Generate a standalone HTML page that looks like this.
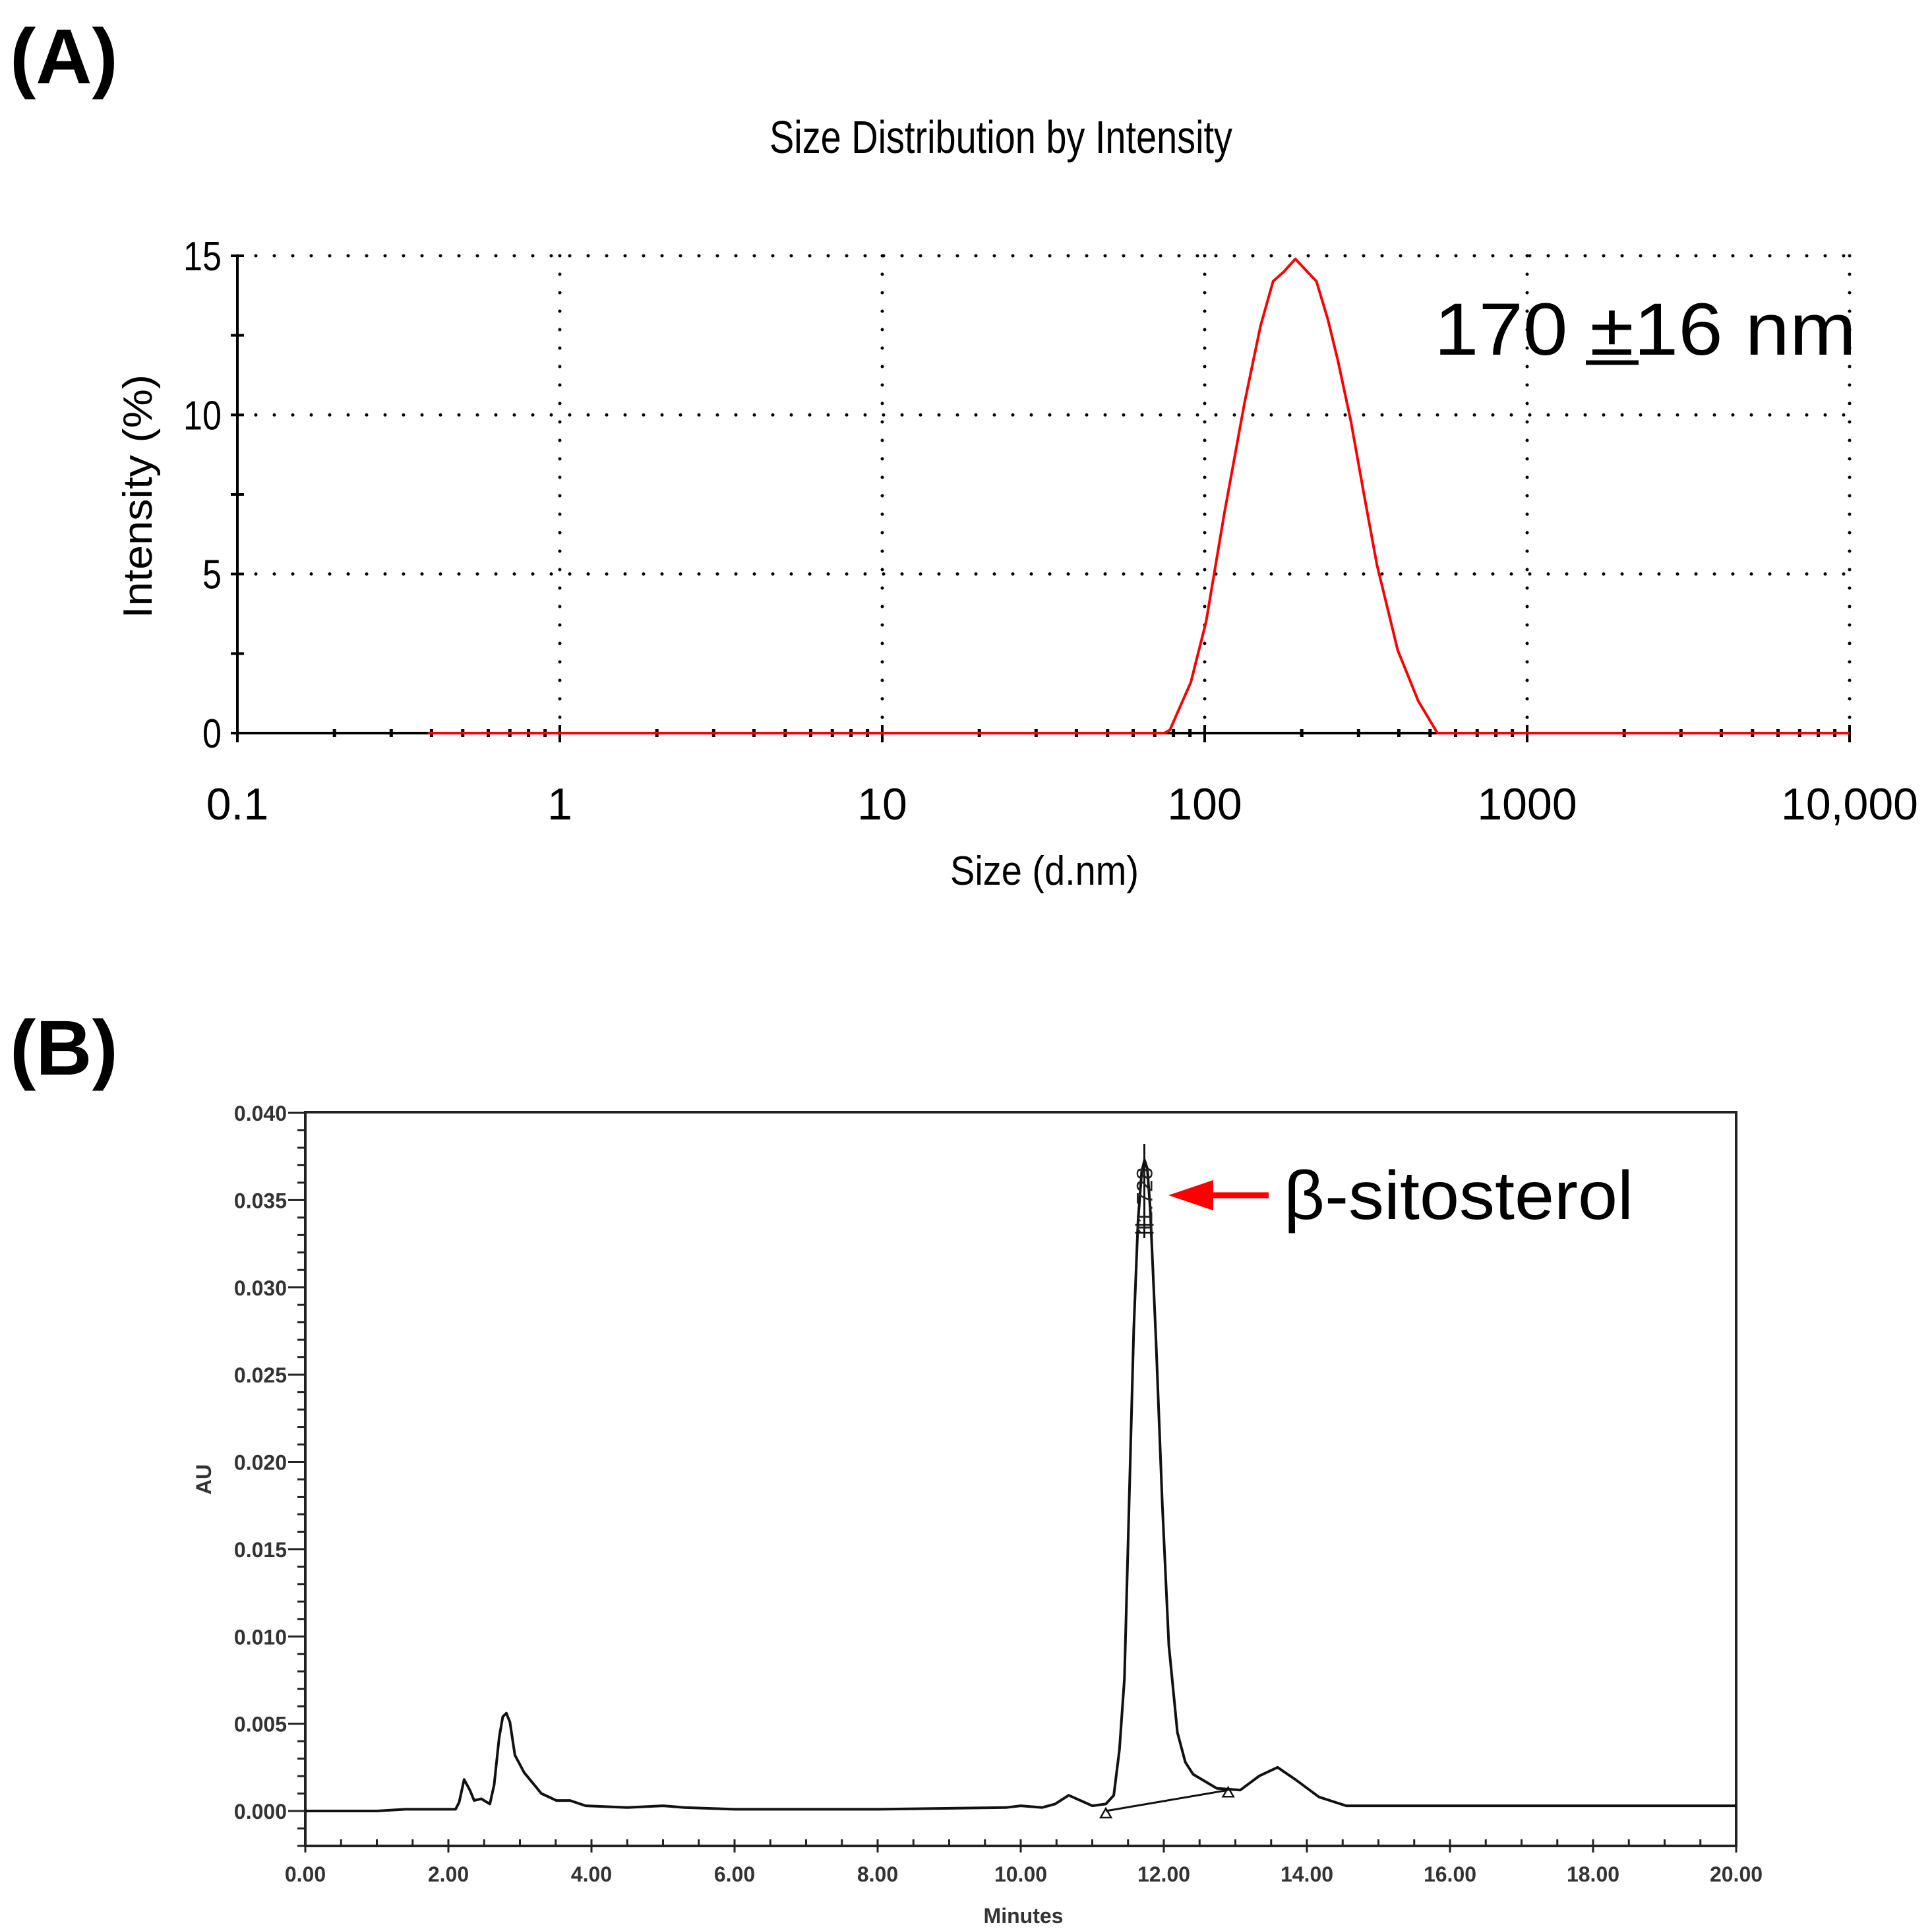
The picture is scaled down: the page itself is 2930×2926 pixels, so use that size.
<!DOCTYPE html>
<html><head><meta charset="utf-8"><style>
html,body{margin:0;padding:0;background:#fff;}
svg{display:block;}
text{font-family:"Liberation Sans",Arial,sans-serif;}
</style></head><body>
<svg id="fig" width="2930" height="2926" viewBox="0 0 2930 2926" xmlns="http://www.w3.org/2000/svg">
<text x="15" y="126" font-size="118" font-weight="bold">(A)</text>
<text x="1167" y="232" font-size="70" textLength="702" lengthAdjust="spacingAndGlyphs">Size Distribution by Intensity</text>
<g id="chartA"></g>
<text x="2175" y="538" font-size="112" textLength="640" lengthAdjust="spacingAndGlyphs">170 ±16 nm</text>
<line x1="2405" y1="550" x2="2485" y2="550" stroke="#000" stroke-width="7"/>
<text x="15" y="1630" font-size="118" font-weight="bold">(B)</text>
<g id="chartB"></g>
<text x="1947" y="1849" font-size="104" textLength="530" lengthAdjust="spacingAndGlyphs">β-sitosterol</text>
<line x1="1830" y1="1813" x2="1924" y2="1813" stroke="#ff0000" stroke-width="9"/>
<polygon points="1772,1813 1840,1790 1840,1836" fill="#ff0000"/>
</svg>
<script>
// ---- Panel A data ----
const dlsSizes = [75, 78, 90.6, 101, 115, 133, 149, 163, 176, 191, 222, 241, 259, 284, 312, 342, 397, 460, 527];
const dlsIntensity = [0, 0.1, 1.6, 3.5, 6.9, 10.4, 12.8, 14.2, 14.5, 14.9, 14.2, 13.0, 11.7, 9.8, 7.5, 5.3, 2.6, 1.0, 0];
const dlsXTicks = [0.1, 1, 10, 100, 1000, 10000];
const dlsXTickLabels = ["0.1", "1", "10", "100", "1000", "10,000"];
const dlsYTicks = [0, 5, 10, 15];
// ---- Panel B data ----
const hplcTimes = [0, 1.0, 1.4, 1.8, 2.1, 2.15, 2.22, 2.3, 2.36, 2.46, 2.58, 2.64, 2.71, 2.76, 2.81, 2.86, 2.93, 3.06, 3.3, 3.51, 3.7, 3.92, 4.5, 5.0, 5.3, 6, 8, 9.8, 10.0, 10.3, 10.48, 10.67, 11.0, 11.19, 11.3, 11.38, 11.45, 11.51, 11.58, 11.64, 11.69, 11.73, 11.77, 11.81, 11.89, 11.98, 12.07, 12.19, 12.3, 12.41, 12.74, 13.07, 13.33, 13.59, 13.84, 14.17, 14.55, 15, 17, 20];
const hplcAU = [0, 0, 0.0001, 0.0001, 0.0001, 0.0005, 0.0018, 0.0012, 0.0006, 0.0007, 0.0004, 0.0015, 0.0042, 0.0054, 0.0056, 0.0051, 0.0032, 0.0022, 0.001, 0.0006, 0.0006, 0.0003, 0.0002, 0.0003, 0.0002, 0.0001, 0.0001, 0.0002, 0.0003, 0.0002, 0.0004, 0.0009, 0.0003, 0.0004, 0.0009, 0.0035, 0.0076, 0.0168, 0.0276, 0.0338, 0.0366, 0.0373, 0.0368, 0.0345, 0.0270, 0.0175, 0.0095, 0.0045, 0.0028, 0.0021, 0.0013, 0.0012, 0.002, 0.0025, 0.0018, 0.0008, 0.0003, 0.0003, 0.0003, 0.0003];
const hplcYTicks = [0, 0.005, 0.01, 0.015, 0.02, 0.025, 0.03, 0.035, 0.04];
const hplcXTicks = [0, 2, 4, 6, 8, 10, 12, 14, 16, 18, 20];
const peakTime = 11.728;
const baselineStart = [11.19, 0.0];
const baselineEnd = [12.9, 0.0012];

const NS = "http://www.w3.org/2000/svg";
function mk(parent, tag, attrs, txt) {
  const e = document.createElementNS(NS, tag);
  for (const k in attrs) e.setAttribute(k, attrs[k]);
  if (txt !== undefined) e.textContent = txt;
  parent.appendChild(e);
  return e;
}

// ---------- Panel A ----------
(function(){
  const g = document.getElementById('chartA');
  const X0 = 360, DEC = 489, Y0 = 1112, Y15 = 388;
  const xs = v => X0 + (Math.log10(v) + 1) * DEC;
  const ys = v => Y0 - v * (Y0 - Y15) / 15;
  const xR = xs(10000);
  [5, 10, 15].forEach(v => {
    const l = mk(g, 'line', {x1: X0, y1: ys(v), x2: xR, y2: ys(v), stroke: '#000', 'stroke-width': 5, 'stroke-dasharray': '0 28', 'stroke-linecap': 'round'});
    
    
  });
  dlsXTicks.slice(1).forEach(v => {
    const l = mk(g, 'line', {x1: xs(v), y1: Y15, x2: xs(v), y2: Y0, stroke: '#000', 'stroke-width': 5, 'stroke-dasharray': '0 28', 'stroke-linecap': 'round'});
    
    
  });
  const ya = mk(g, 'line', {x1: X0, y1: Y15, x2: X0, y2: Y0 + 10, stroke: '#000', 'stroke-width': 4});
  
  
  const xa = mk(g, 'line', {x1: X0, y1: Y0, x2: xR, y2: Y0, stroke: '#000', 'stroke-width': 4});
  
  
  for (let v = 0; v <= 15; v += 2.5) {
    const t = mk(g, 'line', {x1: X0 - 10, y1: ys(v), x2: X0 + 10, y2: ys(v), stroke: '#000', 'stroke-width': 4});
    
    
  }
  dlsYTicks.forEach(v => {
    const t = mk(g, 'text', {x: X0 - 24, y: ys(v) + 22, 'font-size': 62, 'text-anchor': 'end', textLength: v >= 10 ? 58 : 29, lengthAdjust: 'spacingAndGlyphs'}, String(v));
    
    
  });
  for (let d = -1; d < 4; d++) {
    for (let m = 2; m <= 9; m++) {
      const v = m * Math.pow(10, d);
      const t = mk(g, 'line', {x1: xs(v), y1: Y0 - 6, x2: xs(v), y2: Y0 + 6, stroke: '#000', 'stroke-width': 5});
      
      
    }
  }
  dlsXTicks.forEach((v, i) => {
    const t = mk(g, 'line', {x1: xs(v), y1: Y0 - 12, x2: xs(v), y2: Y0 + 14, stroke: '#000', 'stroke-width': 4});
    
    
    const lb = mk(g, 'text', {x: xs(v), y: 1243, 'font-size': 68, 'text-anchor': 'middle'}, dlsXTickLabels[i]);
    
    
  });
  const xt = mk(g, 'text', {x: 1584, y: 1342, 'font-size': 62, 'text-anchor': 'middle', textLength: 286, lengthAdjust: 'spacingAndGlyphs'}, 'Size (d.nm)');
  
  
  const yt = mk(g, 'text', {x: 0, y: 0, 'font-size': 62, 'text-anchor': 'middle', transform: 'translate(230,753) rotate(-90)', textLength: 370, lengthAdjust: 'spacingAndGlyphs'}, 'Intensity (%)');
  
  
  let pts = [[xs(0.39), ys(0)]];
  dlsSizes.forEach((s, i) => pts.push([xs(s), ys(dlsIntensity[i])]));
  pts.push([xR, ys(0)]);
  const p = mk(g, 'polyline', {points: pts.map(q => q[0].toFixed(1) + ',' + q[1].toFixed(1)).join(' '), fill: 'none', stroke: '#ff0000', 'stroke-width': 4, 'stroke-linejoin': 'round'});
  
  
})();

// ---------- Panel B ----------
(function(){
  const g = document.getElementById('chartB');
  const X0 = 463, XPM = 108.5, Y0 = 2747, YPU = 26475;
  const xs = t => X0 + t * XPM;
  const ys = v => Y0 - v * YPU;
  const top = 1687, bottom = 2800, right = xs(20);
  const box = mk(g, 'rect', {x: X0, y: top, width: right - X0, height: bottom - top, fill: 'none', stroke: '#222', 'stroke-width': 4});
  
  
  for (let i = -2; i <= 40; i++) {
    const v = i / 1000;
    const major = i % 5 === 0;
    const t = mk(g, 'line', {x1: X0 - (major ? 26 : 12), y1: ys(v), x2: X0, y2: ys(v), stroke: '#222', 'stroke-width': 3});
    
    
  }
  hplcYTicks.forEach(v => {
    const t = mk(g, 'text', {x: X0 - 28, y: ys(v) + 12, 'font-size': 32, 'font-weight': 'bold', fill: '#333', 'text-anchor': 'end'}, v.toFixed(3));
    
    
  });
  for (let i = 0; i <= 40; i++) {
    const t = i / 2;
    const major = i % 4 === 0;
    const tk = mk(g, 'line', {x1: xs(t), y1: bottom + (major ? 10 : 0), x2: xs(t), y2: bottom - 10, stroke: '#222', 'stroke-width': 3});
    
    
  }
  hplcXTicks.forEach(t => {
    const lb = mk(g, 'text', {x: xs(t), y: 2854, 'font-size': 32, 'font-weight': 'bold', fill: '#333', 'text-anchor': 'middle'}, t.toFixed(2));
    
    
  });
  const xt = mk(g, 'text', {x: 1552, y: 2917, 'font-size': 32, 'font-weight': 'bold', fill: '#333', 'text-anchor': 'middle'}, 'Minutes');
  
  
  const yt = mk(g, 'text', {x: 0, y: 0, 'font-size': 32, 'font-weight': 'bold', fill: '#333', 'text-anchor': 'middle', transform: 'translate(320,2244) rotate(-90)'}, 'AU');
  
  
  const p = mk(g, 'polyline', {points: hplcTimes.map((t, i) => xs(t).toFixed(1) + ',' + ys(hplcAU[i]).toFixed(1)).join(' '), fill: 'none', stroke: '#111', 'stroke-width': 4, 'stroke-linejoin': 'round'});
  
  
  const bl = mk(g, 'line', {x1: xs(baselineStart[0]), y1: ys(baselineStart[1]), x2: xs(baselineEnd[0]), y2: ys(baselineEnd[1]), stroke: '#111', 'stroke-width': 3});
  
  
  [baselineStart, baselineEnd].forEach(b => {
    const x = xs(b[0]), y = ys(b[1]);
    const tr = mk(g, 'polygon', {points: `${x},${y - 4} ${x - 8},${y + 10} ${x + 8},${y + 10}`, fill: 'none', stroke: '#111', 'stroke-width': 2.5});
    
    
  });
  const px = xs(peakTime);
  const pl = mk(g, 'line', {x1: px, y1: 1735, x2: px, y2: 1878, stroke: '#111', 'stroke-width': 3});
  
  
  [1858, 1870].forEach(y => {
    const h = mk(g, 'line', {x1: px - 14, y1: y, x2: px + 14, y2: y, stroke: '#111', 'stroke-width': 2.5});
    
    
  });
  const pt = mk(g, 'text', {x: 0, y: 0, 'font-size': 34, fill: '#222', transform: `translate(${px + 12},1872) rotate(-90)`}, peakTime.toFixed(3));
  
  
})();
</script>
</body></html>
